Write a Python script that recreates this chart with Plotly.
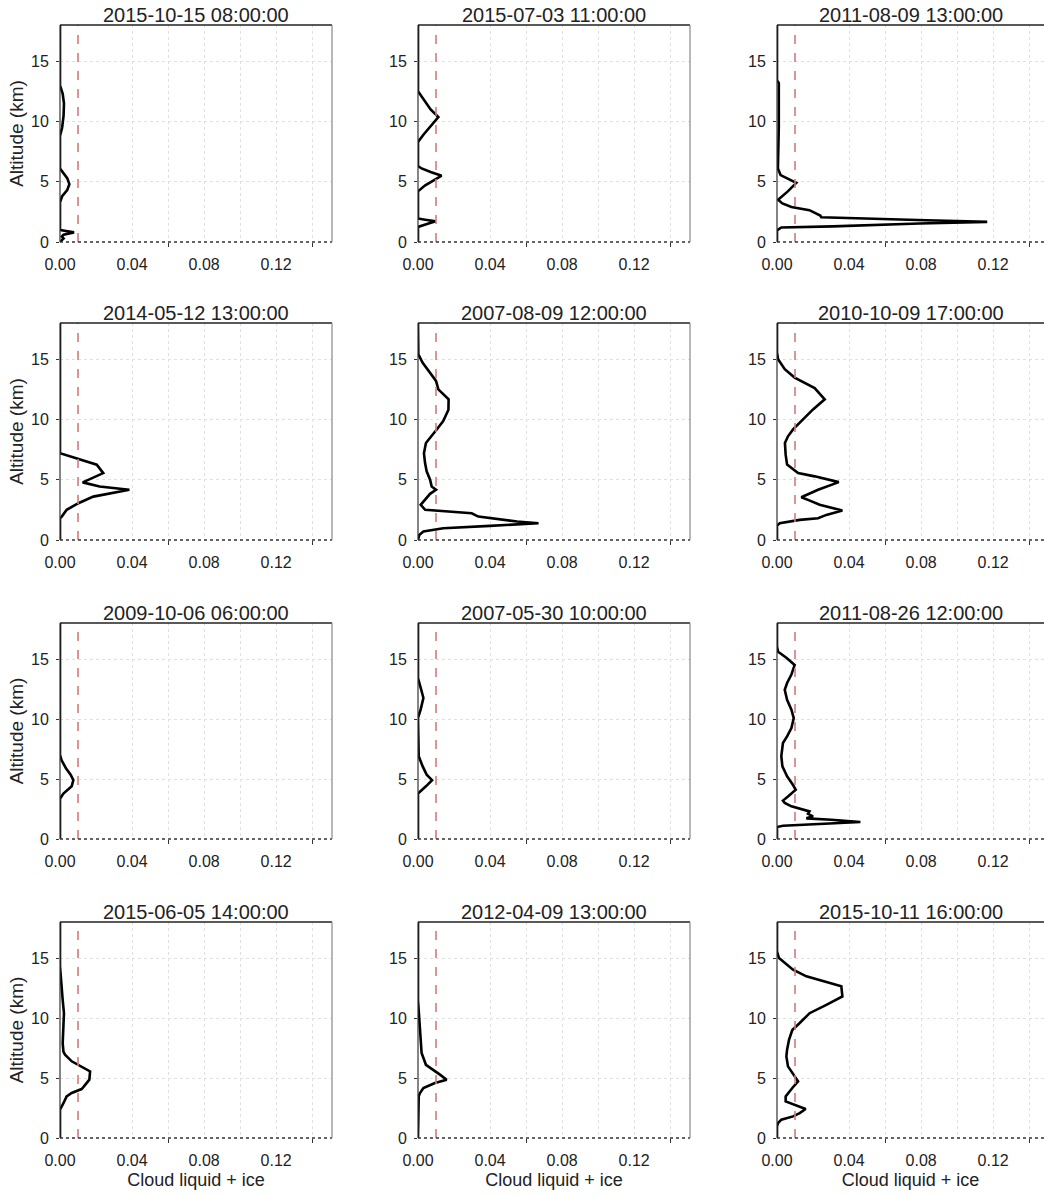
import plotly.graph_objects as go

FONT = "Liberation Sans, Arial, sans-serif"

TITLES = [
    "2015-10-15 08:00:00", "2015-07-03 11:00:00", "2011-08-09 13:00:00",
    "2014-05-12 13:00:00", "2007-08-09 12:00:00", "2010-10-09 17:00:00",
    "2009-10-06 06:00:00", "2007-05-30 10:00:00", "2011-08-26 12:00:00",
    "2015-06-05 14:00:00", "2012-04-09 13:00:00", "2015-10-11 16:00:00",
]

# (altitude km, cloud liquid + ice) pairs
PROFILE_1 = [(0, 0), (0.15, 0.001), (0.3, 0.002), (0.45, 0.001), (0.6, 0.002), (0.8, 0.0078),
             (0.9, 0.003), (1.0, 0), (3.3, 0), (3.8, 0.0012), (4.3, 0.004), (4.8, 0.0052),
             (5.3, 0.004), (5.8, 0.0015), (6.1, 0), (8.8, 0), (9.5, 0.0012), (10.5, 0.002),
             (11.5, 0.0022), (12.3, 0.0015), (13.0, 0), (18, 0)]
PROFILE_2 = [(0, 0), (1.25, 0), (1.5, 0.005), (1.72, 0.0098), (1.85, 0.004), (1.95, 0),
             (4.2, 0), (4.7, 0.004), (5.1, 0.0085), (5.5, 0.0131), (5.8, 0.007), (6.1, 0.002),
             (6.3, 0), (8.3, 0), (8.9, 0.003), (9.6, 0.007), (10.36, 0.0113), (11.0, 0.007),
             (11.8, 0.003), (12.5, 0), (18, 0)]
PROFILE_3 = [(0, 0), (0.97, 0), (1.2, 0.0024), (1.3, 0.031), (1.53, 0.079), (1.67, 0.1167),
             (1.8, 0.083), (2.05, 0.0246), (2.2, 0.024), (2.64, 0.018), (2.9, 0.008), (3.2, 0.003),
             (3.5, 0.0006), (4.2, 0.006), (4.9, 0.0107), (5.55, 0.002), (6.1, 0.0005), (7.5, 0.0008),
             (9.5, 0.001), (13.2, 0.001), (13.4, 0), (18, 0)]
PROFILE_4 = [(0, 0), (1.8, 0), (1.94, 0.001), (2.5, 0.0037), (3.05, 0.0102), (3.6, 0.0185),
             (4.17, 0.0385), (4.44, 0.022), (4.78, 0.0126), (5.55, 0.024), (6.25, 0.0204),
             (6.8, 0.0093), (7.2, 0), (18, 0)]
PROFILE_5 = [(0, 0), (0.42, 0.0007), (0.7, 0.003), (0.97, 0.014), (1.17, 0.04), (1.39, 0.0669),
             (1.53, 0.055), (1.72, 0.0437), (1.94, 0.0335), (2.22, 0.0298), (2.39, 0.0113),
             (2.5, 0.004), (2.92, 0.0015), (3.33, 0.004), (3.83, 0.0067), (4.17, 0.01),
             (4.44, 0.0076), (5.0, 0.0067), (5.7, 0.0048), (6.4, 0.0039), (7.2, 0.0033),
             (8.05, 0.0044), (8.6, 0.0076), (9.17, 0.0104), (9.86, 0.014), (10.8, 0.0169),
             (11.67, 0.017), (11.94, 0.015), (12.5, 0.0113), (13.2, 0.01), (13.9, 0.0067),
             (14.7, 0.0026), (15.4, 0.0002), (18, 0)]
PROFILE_6 = [(0, 0), (1.19, 0), (1.39, 0.0015), (1.67, 0.0126), (1.8, 0.0228), (2.08, 0.0274),
             (2.44, 0.0363), (2.92, 0.0237), (3.33, 0.0172), (3.55, 0.0135), (4.17, 0.0228),
             (4.8, 0.0343), (5.28, 0.0209), (5.55, 0.0117), (6.25, 0.0056), (7.08, 0.0048),
             (8.05, 0.0044), (8.6, 0.0061), (9.17, 0.0089), (10.0, 0.0144), (10.83, 0.02),
             (11.67, 0.0265), (12.6, 0.0209), (13.47, 0.0098), (14.17, 0.0043), (15.0, 0.0006),
             (15.55, 0), (18, 0)]
PROFILE_7 = [(0, 0), (3.36, 0), (3.78, 0.0019), (4.1, 0.0046), (4.39, 0.0065), (4.9, 0.0074),
             (5.36, 0.0059), (5.9, 0.0033), (6.56, 0.0009), (7.0, 0), (18, 0)]
PROFILE_8 = [(0, 0), (3.78, 0), (4.39, 0.0044), (4.9, 0.0078), (5.36, 0.0048), (6.05, 0.0026),
             (6.9, 0.0004), (10.1, 0), (10.8, 0.0015), (11.75, 0.003), (12.44, 0.0018),
             (13.14, 0.0004), (13.4, 0), (18, 0)]
PROFILE_9 = [(0, 0), (1.0, 0), (1.1, 0.0033), (1.25, 0.0274), (1.42, 0.0463), (1.61, 0.0302),
             (1.72, 0.0163), (1.89, 0.02), (2.1, 0.0172), (2.3, 0.018), (2.5, 0.0126),
             (2.72, 0.008), (3.0, 0.0043), (3.2, 0.0033), (3.55, 0.0061), (4.1, 0.0104),
             (4.5, 0.0089), (5.22, 0.0056), (6.05, 0.003), (6.9, 0.0024), (8.0, 0.0033),
             (8.55, 0.0056), (9.25, 0.008), (10.08, 0.0093), (10.78, 0.008), (11.6, 0.0056),
             (12.44, 0.0043), (13.0, 0.0056), (13.7, 0.008), (14.5, 0.0098), (15.1, 0.0052),
             (15.6, 0.0006), (16.05, 0), (18, 0)]
PROFILE_10 = [(0, 0), (2.36, 0), (2.9, 0.0019), (3.47, 0.0037), (3.75, 0.0065), (4.08, 0.012),
              (4.3, 0.0133), (4.86, 0.0163), (5.55, 0.0167), (5.97, 0.012), (6.39, 0.0065),
              (6.94, 0.0028), (7.2, 0.0019), (7.9, 0.0015), (9.58, 0.0019), (10.4, 0.0022),
              (11.5, 0.0015), (12.6, 0.0009), (13.75, 0.0004), (14.3, 0), (18, 0)]
PROFILE_11 = [(0, 0), (2.64, 0), (3.47, 0.0004), (3.75, 0.0011), (4.17, 0.003), (4.58, 0.0094),
              (4.86, 0.0159), (5.28, 0.0122), (5.7, 0.0085), (6.1, 0.0044), (7.08, 0.002),
              (8.2, 0.0015), (9.3, 0.0011), (10.7, 0.0004), (11.5, 0), (18, 0)]
PROFILE_12 = [(0, 0), (0.97, 0), (1.25, 0.0006), (1.53, 0.0024), (1.8, 0.0089), (2.08, 0.0126),
              (2.42, 0.0159), (2.78, 0.0098), (3.05, 0.0048), (3.47, 0.0048), (3.75, 0.0061),
              (4.17, 0.0085), (4.72, 0.0117), (5.14, 0.0098), (5.97, 0.0061), (6.8, 0.0052),
              (7.36, 0.0056), (8.2, 0.0067), (9.0, 0.0085), (9.58, 0.0126), (10.4, 0.0181),
              (11.1, 0.0274), (11.8, 0.0363), (12.64, 0.0357), (13.05, 0.0256), (13.47, 0.0163),
              (14.03, 0.0089), (14.58, 0.0043), (15.0, 0.0011), (15.55, 0), (18, 0)]

PROFILES = [PROFILE_1, PROFILE_2, PROFILE_3, PROFILE_4, PROFILE_5, PROFILE_6,
            PROFILE_7, PROFILE_8, PROFILE_9, PROFILE_10, PROFILE_11, PROFILE_12]

THRESHOLD = 0.01
X_TICKS = [0, 0.04, 0.06, 0.08, 0.10, 0.12, 0.14]
X_TICK_LABELS = ["0.00", "0.04", "", "0.08", "", "0.12", ""]
X_TICK_MARKS = [0.06, 0.14]
Y_TICKS = [0, 5, 10, 15]
Y_MAX = 18
X_MAX = 0.151
X_LABEL = "Cloud liquid + ice"
Y_LABEL = "Altitude (km)"

W, H = 1044, 1196
COLS = [(60, 332), (418, 690), (777, 1049)]
ROWS = [(25, 242), (323, 540), (623, 839), (922, 1138)]
GRID = "#e0e0e0"

fig = go.Figure()
shapes = []
annotations = []
layout = {}

for i, prof in enumerate(PROFILES):
    r, c = divmod(i, 3)
    n = i + 1
    sfx = "" if n == 1 else str(n)
    x0p, x1p = COLS[c]
    y0p, y1p = ROWS[r]
    xmax = X_MAX
    if x1p > W:
        xmax = X_MAX * (W - x0p) / (x1p - x0p)
        x1p = W
    dom_x = [x0p / W, x1p / W]
    dom_y = [1 - y1p / H, 1 - y0p / H]

    alts = [p[0] for p in prof]
    vals = [p[1] for p in prof]
    fig.add_trace(go.Scatter(x=vals, y=alts, mode="lines",
                             line=dict(color="black", width=2.6),
                             xaxis="x" + sfx, yaxis="y" + sfx, showlegend=False,
                             hoverinfo="skip"))
    fig.add_trace(go.Scatter(x=[THRESHOLD, THRESHOLD], y=[0, Y_MAX], mode="lines",
                             line=dict(color="#d47a7a", width=1.6, dash="dash"),
                             xaxis="x" + sfx, yaxis="y" + sfx, showlegend=False,
                             hoverinfo="skip"))

    layout["xaxis" + sfx] = dict(
        domain=dom_x, anchor="y" + sfx, range=[0, xmax], automargin=False,
        tickmode="array", tickvals=X_TICKS, ticktext=X_TICK_LABELS, ticks="",
        ticklabelstandoff=11,
        tickfont=dict(family=FONT, size=16, color="#222"),
        showgrid=True, gridcolor=GRID, griddash="dot", gridwidth=1,
        minor=dict(tickmode="array", tickvals=X_TICK_MARKS,
                   ticks="outside", ticklen=4, tickcolor="#333", showgrid=False),
        zeroline=False, showline=False, fixedrange=True,
        title=dict(text=X_LABEL if r == 3 else "",
                   font=dict(family=FONT, size=18, color="#222"), standoff=5),
    )
    layout["yaxis" + sfx] = dict(
        domain=dom_y, anchor="x" + sfx, range=[0, Y_MAX], automargin=False,
        tickmode="array", tickvals=Y_TICKS, ticks="outside", ticklen=3, tickcolor="#333",
        ticklabelstandoff=4,
        tickfont=dict(family=FONT, size=16, color="#222"),
        showgrid=True, gridcolor=GRID, griddash="dot", gridwidth=1,
        zeroline=False, showline=False, fixedrange=True,
        title=dict(text=Y_LABEL if c == 0 else "",
                   font=dict(family=FONT, size=19, color="#222"), standoff=2),
    )

    xd, yd = "x" + sfx + " domain", "y" + sfx + " domain"
    shapes.append(dict(type="line", xref=xd, yref=yd, x0=0, x1=1, y0=1, y1=1,
                       line=dict(color="#222", width=1.6)))
    shapes.append(dict(type="line", xref=xd, yref=yd, x0=0, x1=1, y0=0, y1=0,
                       line=dict(color="#333", width=1.6, dash="dot")))
    shapes.append(dict(type="line", xref=xd, yref=yd, x0=0, x1=0, y0=0, y1=1,
                       line=dict(color="#333", width=1.2)))
    if c < 2:
        shapes.append(dict(type="line", xref=xd, yref=yd, x0=1, x1=1, y0=0, y1=1,
                           line=dict(color="#888", width=1.2)))
    annotations.append(dict(text=TITLES[i], xref=xd, yref=yd, x=0.5, y=1,
                            xanchor="center", yanchor="bottom", yshift=-3,
                            showarrow=False,
                            font=dict(family=FONT, size=20, color="#222")))

fig.update_layout(
    width=W, height=H, margin=dict(l=0, r=0, t=0, b=0),
    paper_bgcolor="white", plot_bgcolor="white",
    shapes=shapes, annotations=annotations, showlegend=False,
    **layout,
)

fig.write_html("out.html")
